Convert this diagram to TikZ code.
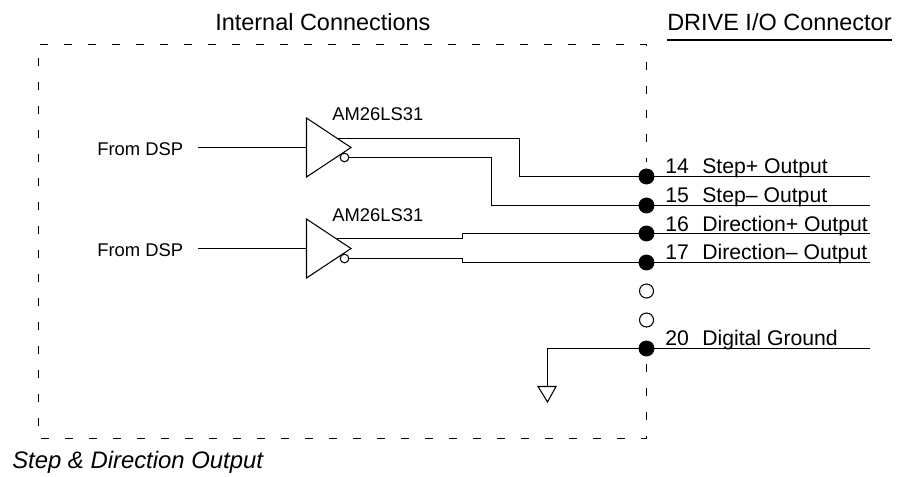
\documentclass[tikz,border=0pt]{standalone}
\usepackage{fontspec}
\setmainfont{Liberation Sans}
\tikzset{
  x=0.75pt,y=-0.75pt,
  wire/.style={draw=black,line width=0.8pt,line join=miter},
  frame/.style={draw=black,line width=0.75pt,dash pattern=on 6pt off 12pt},
  pinfull/.style={circle,fill=black,draw=black,inner sep=0pt,minimum size=11.5pt},
  pinopen/.style={circle,fill=white,draw=black,line width=0.8pt,inner sep=0pt,minimum size=10.5pt},
  bubble/.style={circle,fill=white,draw=black,line width=0.8pt,inner sep=0pt,minimum size=6.5pt},
  lab/.style={inner sep=0pt,anchor=base west,font=\fontsize{15.9pt}{18pt}\selectfont},
  small/.style={inner sep=0pt,anchor=base west,font=\fontsize{13.8pt}{16pt}\selectfont},
  head/.style={inner sep=0pt,anchor=base west,font=\fontsize{17.6pt}{20pt}\selectfont},
  caption/.style={inner sep=0pt,anchor=base west,font=\itshape\fontsize{17.9pt}{20pt}\selectfont},
}
\begin{document}
\begin{tikzpicture}
\useasboundingbox (0,0) rectangle (902,476);
\draw[frame] (40,44.5) -- (646.5,44.5) -- (646.5,162);
\draw[frame] (646.5,364) -- (646.5,438.5) -- (40,438.5);
\draw[frame] (38.5,58) -- (38.5,426);
\node[head] (hint) at (215,30) {Internal Connections};
\node[head] (hdrive) at (667,30) {DRIVE I/O Connector};
\coordinate (ul0) at (667,40); \coordinate (ul1) at (892,40);
\draw[wire] (ul0) -- (ul1);
\node[small] (from1) at (97,155) {From DSP};
\node[small] (from2) at (97,256) {From DSP};
\node[small] (am1) at (332,120) {AM26LS31};
\node[small] (am2) at (332,221) {AM26LS31};
\coordinate (t1a) at (306.5,118); \coordinate (t1b) at (306.5,177); \coordinate (t1c) at (351,147.5);
\coordinate (t2a) at (306.5,219); \coordinate (t2b) at (306.5,278); \coordinate (t2c) at (351,248.5);
\coordinate (in1) at (198,147.5); \coordinate (in1e) at (306.5,147.5);
\coordinate (in2) at (198,248.5); \coordinate (in2e) at (306.5,248.5);
\coordinate (e14) at (870,176.5); \coordinate (e15) at (870,205.5); \coordinate (e16) at (870,233.5); \coordinate (e17) at (870,262.5); \coordinate (e20) at (870,348.5);
\draw[wire] (in1) -- (in1e);
\draw[wire] (in2) -- (in2e);
\draw[wire] (t1a) -- (t1c) -- (t1b) -- cycle;
\draw[wire] (t2a) -- (t2c) -- (t2b) -- cycle;
\node[bubble] (b1) at (344.5,157.5) {};
\node[bubble] (b2) at (344.5,258.5) {};
\node[pinfull] (p14) at (646.5,176.5) {};
\node[pinfull] (p15) at (646.5,205.5) {};
\node[pinfull] (p16) at (646.5,233.5) {};
\node[pinfull] (p17) at (646.5,262.5) {};
\node[pinopen] (p18) at (646.5,291) {};
\node[pinopen] (p19) at (646.5,320) {};
\node[pinfull] (p20) at (646.5,348.5) {};
\coordinate (a1) at (337,138.5); \coordinate (a2) at (519.5,138.5); \coordinate (a3) at (519.5,176.5);
\coordinate (c1) at (491.5,157.5); \coordinate (c2) at (491.5,205.5);
\coordinate (d1) at (337,238.5); \coordinate (d2) at (462.5,238.5); \coordinate (d3) at (462.5,233.5);
\coordinate (f1) at (462.5,258.5); \coordinate (f2) at (462.5,262.5);
\draw[wire] (a1) -- (a2) -- (a3) -- (p14.center) -- (e14);
\draw[wire] (b1.east) -- (c1) -- (c2) -- (p15.center) -- (e15);
\draw[wire] (d1) -- (d2) -- (d3) -- (p16.center) -- (e16);
\draw[wire] (b2.east) -- (f1) -- (f2) -- (p17.center) -- (e17);
\draw[wire] (p20.center) -- (e20);
\coordinate (g0) at (547.5,348.5); \coordinate (g1) at (547.5,386.5);
\draw[wire] (p20.center) -- (g0) -- (g1);
\coordinate (g2) at (538,386.5); \coordinate (g3) at (556,386.5); \coordinate (g4) at (547.5,402);
\draw[wire] (g2) -- (g3) -- (g4) -- cycle;
\node[lab] (n14) at (665,173) {14};
\node[lab] (t14) at (702,173) {Step+ Output};
\node[lab] (n15) at (665,202) {15};
\node[lab] (t15) at (702,202) {Step– Output};
\node[lab] (n16) at (665,231) {16};
\node[lab] (t16) at (702,231) {Direction+ Output};
\node[lab] (n17) at (665,259) {17};
\node[lab] (t17) at (702,259) {Direction– Output};
\node[lab] (n20) at (665,345) {20};
\node[lab] (t20) at (702,345) {Digital Ground};
\node[caption] (cap) at (12,468) {Step \& Direction Output};
\end{tikzpicture}
\end{document}
